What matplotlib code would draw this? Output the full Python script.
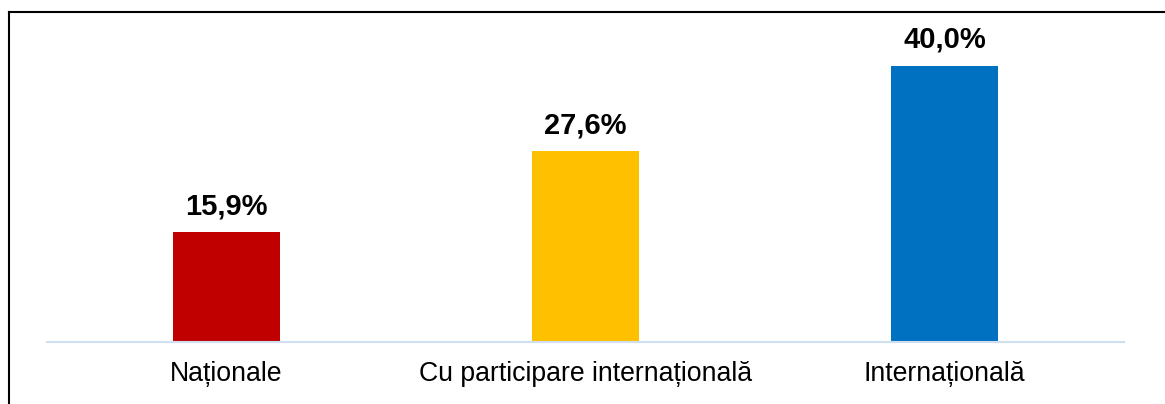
import matplotlib
matplotlib.use("Agg")
import matplotlib.pyplot as plt
from matplotlib.lines import Line2D

categories = ["Naționale", "Cu participare internațională", "Internațională"]
values = [15.9, 27.6, 40.0]
colors = ["#c00000", "#ffc000", "#0070c0"]
value_labels = ["15,9%", "27,6%", "40,0%"]

plt.rcParams["font.family"] = ["Liberation Sans", "DejaVu Sans"]

fig = plt.figure(figsize=(11.65, 4.04), dpi=100)
ax = fig.add_axes([47 / 1165, 62 / 404, (1124 - 47) / 1165, (342 - 12) / 404])

x = range(len(categories))
bars = ax.bar(x, values, width=0.296, color=colors, zorder=2)

for bar, lab in zip(bars, value_labels):
    ax.annotate(lab, (bar.get_x() + bar.get_width() / 2, bar.get_height()),
                xytext=(0, 13), textcoords="offset points",
                ha="center", va="baseline", fontsize=21, fontweight="bold",
                color="black")

ax.set_xlim(-0.5, len(categories) - 0.5)
ax.set_ylim(0, 47.8)
ax.set_xticks(list(x))
ax.set_xticklabels(categories, fontsize=19.2)
ax.tick_params(axis="x", length=0, pad=13.5)
ax.set_yticks([])
for s in ["top", "right", "left"]:
    ax.spines[s].set_visible(False)
ax.spines["bottom"].set_color("#d0dff0")
ax.spines["bottom"].set_linewidth(1.5)

# frame lines on the left and top edges of the figure
fig.add_artist(Line2D([8.5 / 1165, 8.5 / 1165], [0, 1 - 11.5 / 404],
                      transform=fig.transFigure, color="black", lw=1.5))
fig.add_artist(Line2D([8.5 / 1165, 1.0], [1 - 11.5 / 404, 1 - 11.5 / 404],
                      transform=fig.transFigure, color="black", lw=1.5))

fig.savefig("out.png", dpi=100)
